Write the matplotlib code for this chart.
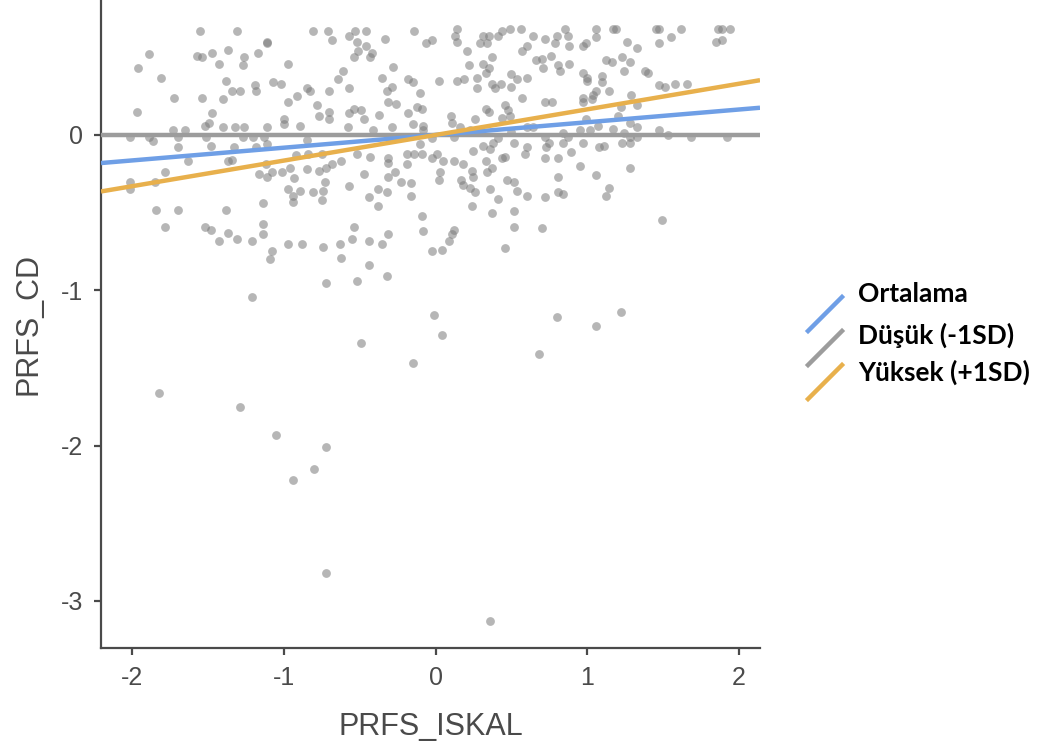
import numpy as np
import matplotlib
matplotlib.use('Agg')
import matplotlib.pyplot as plt
from matplotlib.lines import Line2D

plt.rcParams['font.family'] = ['Liberation Sans', 'DejaVu Sans']

# (PRFS_ISKAL, PRFS_CD) pairs
obs = [
    # upper left
    (-1.55, 0.67), (-1.31, 0.67), (-1.89, 0.52), (-1.96, 0.43), (-1.81, 0.37), (-1.57, 0.51),
    (-1.54, 0.50), (-1.47, 0.53), (-1.37, 0.55), (-1.43, 0.46), (-1.26, 0.50), (-1.27, 0.45),
    (-1.17, 0.53), (-1.38, 0.35), (-1.34, 0.28), (-1.29, 0.28), (-1.19, 0.32), (-1.18, 0.28),
    (-1.72, 0.24), (-1.54, 0.24), (-1.40, 0.23), (-1.97, 0.15), (-1.47, 0.14), (-1.49, 0.08),
    (-1.52, 0.06), (-1.40, 0.05), (-1.32, 0.05), (-1.26, 0.05), (-1.73, 0.03), (-1.65, 0.03),
    (-2.01, -0.01), (-1.89, -0.01), (-1.86, -0.04), (-1.70, -0.01), (-1.51, -0.01), (-1.27, -0.01),
    (-1.20, -0.01),
    (-0.81, 0.67), (-0.71, 0.67), (-0.53, 0.67), (-0.46, 0.67), (-0.14, 0.67), (-0.57, 0.64),
    (-0.52, 0.60), (-0.68, 0.61), (-0.33, 0.62), (-0.06, 0.59), (-1.11, 0.60), (-1.11, 0.59),
    (-0.46, 0.57), (-0.51, 0.54), (-0.42, 0.53), (-0.54, 0.50), (-0.43, 0.50), (-0.97, 0.46),
    (-0.28, 0.44), (-0.61, 0.41), (-0.64, 0.36), (-0.35, 0.37), (-0.18, 0.36), (-0.15, 0.34),
    (-1.07, 0.34), (-1.02, 0.33), (-0.85, 0.30), (-0.83, 0.28), (-0.91, 0.25), (-0.70, 0.28),
    (-0.57, 0.30), (-0.32, 0.28), (-0.29, 0.31), (-0.10, 0.27), (-0.97, 0.21), (-0.78, 0.19),
    (-0.31, 0.21), (-0.26, 0.20), (-0.12, 0.18), (-0.70, 0.15), (-0.57, 0.14), (-0.54, 0.17),
    (-0.49, 0.16), (-0.18, 0.14), (-0.77, 0.12), (-0.70, 0.10), (-0.47, 0.10), (-0.37, 0.13),
    (-1.00, 0.10), (-1.00, 0.07), (-0.89, 0.06), (-0.58, 0.05), (-1.11, 0.05), (-0.41, 0.03),
    (-0.29, 0.05), (-0.15, 0.07), (-0.08, 0.06), (-1.13, -0.01), (-0.08, 0.03),
    # upper right
    (-0.02, 0.61), (0.13, 0.64), (0.14, 0.68), (0.14, 0.60), (0.31, 0.64), (0.35, 0.64),
    (0.41, 0.64), (0.44, 0.67), (0.49, 0.68), (0.56, 0.68), (0.64, 0.64), (0.34, 0.59),
    (0.29, 0.59), (0.21, 0.54), (0.37, 0.50), (0.57, 0.54), (0.60, 0.57), (0.72, 0.62),
    (0.80, 0.64), (0.85, 0.68), (0.87, 0.64), (0.79, 0.59), (0.88, 0.57), (0.97, 0.57),
    (0.99, 0.59), (0.22, 0.45), (0.31, 0.46), (0.35, 0.43), (0.33, 0.40), (0.27, 0.37),
    (0.76, 0.51), (0.66, 0.48), (0.70, 0.49), (0.71, 0.43), (0.81, 0.45), (0.82, 0.41),
    (0.88, 0.46), (0.97, 0.40), (1.00, 0.37), (0.02, 0.35), (0.14, 0.35), (0.19, 0.36),
    (0.37, 0.33), (0.43, 0.33), (0.50, 0.39), (0.54, 0.36), (0.60, 0.37), (0.27, 0.30),
    (0.39, 0.30), (0.50, 0.31), (0.57, 0.24), (0.72, 0.21), (0.77, 0.21), (0.97, 0.24),
    (0.97, 0.21), (0.46, 0.19), (0.48, 0.16), (0.33, 0.17), (0.35, 0.15), (0.10, 0.12),
    (0.11, 0.08), (-0.09, 0.17), (0.26, 0.10), (0.44, 0.11), (0.49, 0.12), (0.16, 0.05),
    (0.23, 0.03), (0.50, 0.02), (0.60, 0.05), (0.64, 0.05), (0.84, 0.01), (0.87, -0.01),
    (0.95, 0.03), (0.99, 0.10), (-0.02, -0.02), (0.12, -0.01), (0.41, -0.02), (0.72, -0.01),
    (1.06, 0.68), (1.17, 0.68), (1.19, 0.68), (1.45, 0.68), (1.47, 0.68), (1.62, 0.68),
    (1.86, 0.68), (1.89, 0.68), (1.94, 0.68), (1.85, 0.60), (1.89, 0.61), (1.55, 0.63),
    (1.47, 0.59), (1.06, 0.63), (1.26, 0.60), (1.33, 0.56), (1.12, 0.48), (1.16, 0.47),
    (1.23, 0.50), (1.28, 0.47), (1.24, 0.41), (1.38, 0.41), (1.40, 0.40), (1.10, 0.38),
    (1.10, 0.34), (1.00, 0.35), (1.47, 0.32), (1.51, 0.31), (1.58, 0.33), (1.66, 0.33),
    (1.06, 0.28), (1.14, 0.28), (1.04, 0.26), (1.29, 0.26), (1.03, 0.23), (1.22, 0.18),
    (1.33, 0.19), (1.20, 0.12), (1.07, 0.06), (1.28, 0.08), (1.33, 0.05), (1.17, 0.04),
    (1.02, 0.03), (1.24, 0.01), (1.28, -0.01), (1.33, -0.01), (1.47, 0.03), (1.53, 0.00),
    (1.68, -0.01), (1.92, -0.01),
    # lower left
    (-1.70, -0.08), (-1.48, -0.07), (-1.33, -0.08), (-1.18, -0.08), (-1.63, -0.17), (-1.37, -0.17),
    (-1.34, -0.16), (-1.78, -0.24), (-2.01, -0.30), (-1.85, -0.30), (-2.01, -0.35), (-1.16, -0.25),
    (-1.84, -0.48), (-1.70, -0.48), (-1.38, -0.48), (-1.78, -0.59), (-1.52, -0.59), (-1.48, -0.61),
    (-1.37, -0.63), (-1.43, -0.68), (-1.31, -0.67), (-1.21, -0.68),
    (-1.11, -0.06), (-0.85, -0.03), (-0.84, -0.12), (-0.92, -0.13), (-0.75, -0.12), (-0.68, -0.19),
    (-0.62, -0.17), (-0.52, -0.12), (-0.43, -0.14), (-0.31, -0.15), (-0.31, -0.18), (-0.19, -0.12),
    (-0.14, -0.12), (-0.10, -0.06), (-0.19, -0.19), (-1.12, -0.19), (-0.96, -0.21), (-0.85, -0.22),
    (-0.77, -0.23), (-0.72, -0.21), (-1.08, -0.24), (-1.01, -0.24), (-1.11, -0.27), (-0.93, -0.28),
    (-0.73, -0.30), (-0.47, -0.25), (-0.31, -0.27), (-0.27, -0.24), (-0.23, -0.30), (-0.16, -0.31),
    (-0.97, -0.35), (-0.89, -0.36), (-0.94, -0.39), (-0.94, -0.43), (-0.81, -0.37), (-0.74, -0.36),
    (-0.75, -0.42), (-0.57, -0.33), (-0.44, -0.40), (-0.38, -0.35), (-0.32, -0.37), (-0.16, -0.39),
    (-1.14, -0.44), (-0.38, -0.46), (-0.54, -0.59), (-0.55, -0.67), (-0.31, -0.64), (-0.44, -0.68),
    (-0.35, -0.70), (-0.63, -0.70), (-0.97, -0.70), (-0.88, -0.70), (-0.74, -0.72), (-1.08, -0.75),
    (-1.09, -0.80), (-0.62, -0.79), (-0.44, -0.84), (-1.14, -0.57), (-1.14, -0.64),
    # lower right
    (-0.09, -0.12), (-0.02, -0.15), (0.01, -0.12), (0.05, -0.17), (0.12, -0.17), (0.18, -0.19),
    (0.25, -0.10), (0.31, -0.07), (0.36, -0.09), (0.38, -0.05), (0.52, -0.05), (0.60, -0.08),
    (0.59, -0.12), (0.73, -0.08), (0.75, -0.05), (0.84, -0.05), (0.89, -0.11), (0.81, -0.15),
    (0.72, -0.15), (0.46, -0.14), (0.44, -0.15), (0.33, -0.17), (0.37, -0.21), (0.24, -0.23),
    (0.34, -0.24), (0.25, -0.27), (0.03, -0.24), (0.02, -0.29), (0.17, -0.29), (0.18, -0.32),
    (0.23, -0.34), (0.26, -0.37), (0.36, -0.35), (0.47, -0.29), (0.52, -0.30), (0.54, -0.36),
    (0.60, -0.39), (0.72, -0.40), (0.81, -0.27), (0.81, -0.37), (0.84, -0.38), (0.41, -0.41),
    (0.24, -0.46), (0.37, -0.50), (0.52, -0.49), (-0.09, -0.52), (-0.08, -0.62), (0.12, -0.61),
    (0.11, -0.64), (0.09, -0.68), (0.52, -0.59), (0.70, -0.60), (-0.02, -0.75), (0.04, -0.74),
    (0.46, -0.73),
    (0.97, -0.05), (1.08, -0.08), (1.11, -0.07), (1.23, -0.05), (1.28, -0.05), (0.95, -0.20),
    (1.06, -0.26), (1.28, -0.21), (1.14, -0.34), (1.12, -0.39), (1.49, -0.55),
    # sparse tail
    (-0.32, -0.91), (-0.72, -0.95), (-0.52, -0.94), (-1.21, -1.04), (-0.01, -1.16), (0.04, -1.29),
    (-0.49, -1.34), (-0.15, -1.47), (0.80, -1.17), (1.06, -1.23), (1.22, -1.14), (0.68, -1.41),
    (-1.82, -1.66), (-1.29, -1.75), (-1.05, -1.93), (-0.72, -2.01), (-0.80, -2.15), (-0.94, -2.22),
    (-0.72, -2.82), (0.36, -3.13),
]
prfs_iskal, prfs_cd = np.array(obs).T

# simple slopes (intercept ~0 for all three)
group_labels = ['Ortalama', 'Düşük (-1SD)', 'Yüksek (+1SD)']
group_slopes = [0.082, 0.0, 0.165]
group_colors = ['#6f9fe6', '#9c9c9c', '#e8b04c']

x_lim = (-2.204, 2.138)
y_lim = (-3.303, 0.869)

fig = plt.figure(figsize=(10.47, 7.54), dpi=100)
ax = fig.add_axes([0.0965, 0.1406, 0.6294, 0.8594])

ax.scatter(prfs_iskal, prfs_cd, s=40, color='#7a7a7a', alpha=0.55, linewidths=0, zorder=2)

xx = np.array(x_lim)
for lab, b, c, z in zip(group_labels, group_slopes, group_colors, [4, 3, 5]):
    ax.plot(xx, b * xx, color=c, lw=3.2, solid_capstyle='butt', zorder=z)

ax.set_xlim(*x_lim)
ax.set_ylim(*y_lim)
ax.set_xticks([-2, -1, 0, 1, 2])
ax.set_yticks([-3, -2, -1, 0])
ax.set_xticklabels(['-2', '-1', '0', '1', '2'])
ax.set_yticklabels(['-3', '-2', '-1', '0'])

for s in ['top', 'right']:
    ax.spines[s].set_visible(False)
for s in ['left', 'bottom']:
    ax.spines[s].set_color('#4a4a4a')
    ax.spines[s].set_linewidth(1.6)
ax.tick_params(length=5, width=1.6, color='#4a4a4a', labelcolor='#4a4a4a',
               labelsize=18, pad=8)

ax.set_xlabel('PRFS_ISKAL', fontsize=22, color='#4a4a4a', labelpad=16)
ax.set_ylabel('PRFS_CD', fontsize=22, color='#4a4a4a', labelpad=12)

# legend outside, with slanted keys
W, H = 1047, 754
text_base = [302, 344, 381]
for lab, c, i in zip(group_labels, group_colors, range(3)):
    y0 = 331 + 34 * i
    fig.add_artist(Line2D([808 / W, 842 / W], [1 - y0 / H, 1 - (y0 - 34) / H],
                          color=c, lw=3.2, transform=fig.transFigure))
    fig.text(858 / W, 1 - text_base[i] / H, lab, fontsize=19, fontweight='bold',
             family=['Lato', 'DejaVu Sans'], color='black', va='baseline', ha='left')

fig.savefig('out.png', dpi=100)
